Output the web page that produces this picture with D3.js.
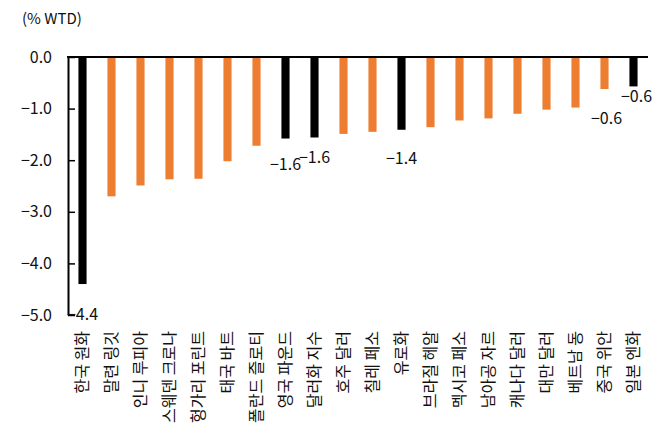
<!DOCTYPE html>
<html>
<head>
<meta charset="utf-8">
<script src="https://cdn.jsdelivr.net/npm/d3@7"></script>
<style>
  body { margin: 0; background: #fff; }
  svg { display: block; }
  text { font-family: "Noto Sans CJK KR", "Noto Sans", sans-serif; fill: #111; }
</style>
</head>
<body>
<svg id="chart" width="669" height="438"></svg>
<script>
// ---- data ----
const categories = ["한국 원화","말련 링깃","인니 루피아","스웨덴 크로나","헝가리 포린트","태국 바트","폴란드 즐로티","영국 파운드","달러화 지수","호주 달러","칠레 페소","유로화","브라질 헤알","멕시코 페소","남아공 자르","캐나다 달러","대만 달러","베트남 동","중국 위안","일본 엔화"];
const values = [-4.40,-2.70,-2.49,-2.37,-2.36,-2.02,-1.72,-1.58,-1.56,-1.49,-1.45,-1.41,-1.36,-1.23,-1.19,-1.10,-1.02,-0.98,-0.62,-0.57];
const highlighted = ["한국 원화","영국 파운드","달러화 지수","유로화","일본 엔화"];
const labelled = ["한국 원화","영국 파운드","달러화 지수","유로화","중국 위안","일본 엔화"];
const yTicks = [0,-1,-2,-3,-4,-5];
const yTitle = "(% WTD)";

// ---- layout / style ----
const labelNudge = { "한국 원화":[0,30], "영국 파운드":[0,26], "달러화 지수":[0,20], "유로화":[0,29], "중국 위안":[2,29], "일본 엔화":[3,10] };
const margin = {left: 68, top: 57, right: 21, bottom: 123};
const W = 669, H = 438;
const svg = d3.select("#chart");

const x = d3.scaleBand().domain(categories).range([margin.left, W - margin.right]).paddingInner(0.72).paddingOuter(0.36);
const y = d3.scaleLinear().domain([-5, 0]).range([315, 57]);
const fmt = v => d3.format(".1f")(v).replace("-", "\u2212");

// bars
svg.append("g").selectAll("rect").data(categories).join("rect")
  .attr("x", d => x(d))
  .attr("width", x.bandwidth())
  .attr("y", y(0))
  .attr("height", (d, i) => y(values[i]) - y(0))
  .attr("fill", d => highlighted.includes(d) ? "#000000" : "#ED7D31");

// y axis
const yAxis = d3.axisLeft(y).tickValues(yTicks).tickFormat(fmt).tickSizeInner(-7).tickSizeOuter(0).tickPadding(16);
const gy = svg.append("g").attr("transform", `translate(${margin.left},0)`).call(yAxis);
gy.select(".domain").attr("stroke", "#000").attr("stroke-width", 2);
gy.selectAll(".tick line").attr("stroke", "#000").attr("stroke-width", 1.5);
gy.selectAll(".tick text").attr("font-size", 16).attr("font-family", '"Noto Sans CJK KR", sans-serif').attr("fill", "#111");

// zero line (x axis)
const xAxis = d3.axisBottom(x).tickSize(0).tickFormat("");
const gx = svg.append("g").attr("transform", `translate(0,${y(0)})`).call(xAxis);
gx.select(".domain").attr("stroke", "#000").attr("stroke-width", 2)
  .attr("d", `M${margin.left - 1},0H${W - margin.right}`);

// category labels, rotated, at bottom
svg.append("g").selectAll("text").data(categories).join("text")
  .attr("transform", d => `translate(${x(d) + x.bandwidth()/2 + 5},${y(-5) + 16}) rotate(-90)`)
  .attr("text-anchor", "end")
  .attr("font-size", 16)
  .text(d => d);

// data labels
svg.append("g").selectAll("text").data(labelled).join("text")
  .attr("x", d => x(d) + x.bandwidth()/2 + labelNudge[d][0])
  .attr("y", d => y(values[categories.indexOf(d)]) + labelNudge[d][1])
  .attr("dy", "0.35em")
  .attr("text-anchor", "middle")
  .attr("font-size", 16)
  .text(d => fmt(values[categories.indexOf(d)]));

// y title
svg.append("text").attr("x", 22).attr("y", 24).attr("font-size", 15).text(yTitle);
</script>
</body>
</html>
